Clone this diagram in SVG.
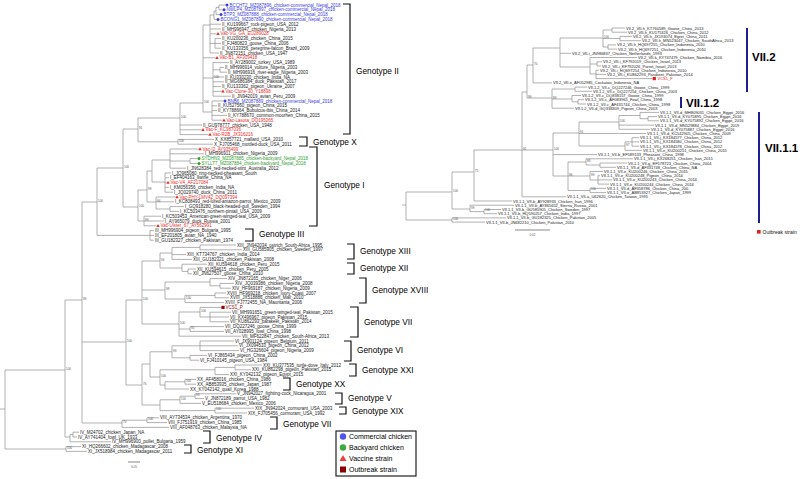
<svg xmlns="http://www.w3.org/2000/svg" width="800" height="479" viewBox="0 0 800 479">
<style>
.e{fill:none;stroke:#8f8f8f;stroke-width:.7}
text{font-family:"Liberation Sans",Arial,sans-serif;dominant-baseline:central}
.l{font-size:4.5px;fill:#1a1a1a}
.r{font-size:4px;fill:#1a1a1a}
.bs{font-size:3px;fill:#555}
.cb{fill:#3b3be0}.cg{fill:#2e9e2e}.cv{fill:#f02828}.co{fill:#9e0000}
.gl{font-size:8.3px;fill:#000}
.br{fill:none;stroke:#111;stroke-width:1.2}
.cl{font-size:11.5px;font-weight:bold;fill:#000}
.bar{stroke:#1e1e8c;stroke-width:2}
.sc{stroke:#555;stroke-width:.7}
</style>
<rect width="800" height="479" fill="#fff"/>
<g id="connectors">
<path class="e" d="M0 409H5 M5 370V449 M5 370H65 M5 449H66
M66 446.6V451.4 M66 446.6H81 M66 451.4H87
M65 300V437 M65 300H82 M65 437H70
M70 434.6V441.8 M70 434.6H73 M70 441.8H111 M73 432.2V437 M73 432.2H79 M73 437H77
M82 202V423 M82 202H97 M82 342H126 M82 423H122
M122 420.2V427.4 M122 420.2H147 M122 427.4H169 M147 417.8V422.6 M147 417.8H159 M147 422.6H167
M97 168V235.4 M97 168H123 M97 235.4H150
M150 230.6V240.2 M150 230.6H154 M150 235.4H154 M150 240.2H154
M123 129V207 M123 129H138 M123 207H138
M138 118V141.8 M138 118H180 M138 141.8H178
M178 139.4V144.2 M178 139.4H214 M178 144.2H213
M180 103V134.6 M180 103H203 M180 125H202 M180 129.8H201.5 M180 134.6H208.5
M203 25V112 M203 25H210 M203 57.8H215.5 M203 78H213 M203 112H212
M210 15V53 M210 15H214 M210 24.2H221 M210 29H221 M210 33.8H216.5 M210 43.4H215 M210 53H219
M215 38.6V48.2 M215 38.6H221 M215 43.4H221 M215 48.2H221
M214 11V19.4 M214 11H216 M214 19.4H216.5
M216 7.4V14.6 M216 7.4H219 M216 14.6H219.5
M219 5V9.8 M219 5H225.5 M219 9.8H222.5
M213 62.6V96.2 M213 62.6H229 M213 69.8H220 M213 77H224 M213 81.8H224 M213 86.6H221 M213 91.4H221.5 M213 96.2H231
M220 67.4V72.2 M220 67.4H224 M220 72.2H227
M212 101V120.2 M212 101H223.5 M212 105.8H217 M212 110.6H217 M212 115.4H227 M212 120.2H222.5
M138 190V221 M138 190H147 M138 221H144
M144 216.2V225.8 M144 216.2H161 M144 221H164 M144 225.8H156.5
M147 171V202 M147 171H152 M147 202H156
M152 160V182 M152 160H170 M152 182H165
M170 149V168.2 M170 149H198.5 M170 153.8H204 M170 161H190 M170 168.2H186
M190 158.6V163.4 M190 158.6H197.5 M190 163.4H197.5
M165 173V192.2 M165 173H171 M165 177.8H169 M165 182.6H166.5 M165 187.4H169 M165 192.2H173
M156 197V209 M156 197H175.5 M156 201.8H174 M156 209H170
M170 206.6V211.4 M170 206.6H184 M170 211.4H179
M126 300V385 M126 300H142 M126 385H142
M142 261V324 M142 261H160 M142 290H165 M142 324H179
M160 253V268 M160 253H172 M160 268H182
M172 247.4V259.4 M172 247.4H200 M172 254.6H186 M172 259.4H192 M200 245V249.8 M200 245H236 M200 249.8H242
M182 264.2V271.4 M182 264.2H207 M182 271.4H188 M188 269V273.8 M188 269H196 M188 273.8H192
M165 282V299 M165 282H210 M165 299H185
M210 278.6V285.8 M210 278.6H227 M210 285.8H220 M220 283.4V288.2 M220 283.4H234 M220 288.2H231
M185 295.4V302.6 M185 295.4H215 M185 302.6H224 M215 293V297.8 M215 293H226 M215 297.8H229
M179 312V336.2 M179 312H200 M179 329H190 M179 336.2H241
M200 307.4V317 M200 307.4H221.5 M200 317H210 M210 312.2V321.8 M210 312.2H231 M210 317H229 M210 321.8H229
M190 326.6V331.4 M190 326.6H224 M190 331.4H224
M142 364V405 M142 364H150 M142 405H160
M150 351.8V377 M150 351.8H172 M150 377H160
M172 345.8V357.8 M172 345.8H200 M172 357.8H190 M200 341V350.6 M200 341H234 M200 345.8H238 M200 350.6H239 M190 355.4V360.2 M190 355.4H207 M190 360.2H199
M160 369.8V385 M160 369.8H215 M160 385H165
M215 367.4V374.6 M215 367.4H235 M215 374.6H229 M235 365V369.8 M235 365H262 M235 369.8H251
M165 381.8V389 M165 381.8H185 M165 389H189 M185 379.4V384.2 M185 379.4H196 M185 384.2H196
M160 399.8V410.6 M160 399.8H180 M160 410.6H215
M180 396.2V403.4 M180 396.2H195 M180 403.4H201 M195 393.8V398.6 M195 393.8H236 M195 398.6H204
M215 408.2V413 M215 408.2H254 M215 413H247"/>
<path class="e" d="M402 205H406 M406 192V220 M406 192H452 M406 220H452
M452 217.9V222.1 M452 217.9H506 M452 222.1H485
M452 172V209 M452 172H474 M452 209H470
M470 205.2V211.6 M470 205.2H514 M470 211.6H484 M484 209.5V213.7 M484 209.5H501 M484 213.7H497
M474 150V201 M474 150H522 M474 201H512
M522 92V196.8 M522 92H527 M522 150H553 M522 196.8H566
M527 65V98 M527 65H533 M527 98H552
M533 48V82.9 M533 48H560 M533 82.9H552
M560 38V67 M560 38H603 M560 53.3H571 M560 67H590
M603 30V47 M603 30H612 M603 38.5H620 M603 47H608
M612 28V32.2 M612 28H625 M612 32.2H627
M620 36.4V40.7 M620 36.4H632 M620 40.7H641
M608 44.9V49.1 M608 44.9H616 M608 49.1H617
M590 57.5V74 M590 57.5H637 M590 64H597 M590 74H596
M597 61.8V66 M597 61.8H602 M597 66H601
M596 70.2V78.6 M596 70.2H599 M596 74.4H606 M596 78.6H652.5
M552 89V108.2 M552 89H575 M552 99H572 M552 108.2H574
M575 87.1V91.3 M575 87.1H587 M575 91.3H592
M572 95.5V101.8 M572 95.5H581 M572 101.8H578
M578 99.7V104 M578 99.7H584 M578 104H586
M553 133V176 M553 133H579 M553 154.6H597 M553 176H568
M579 122V146 M579 122H619 M579 133.5H646 M579 146H625
M619 115.5V129.3 M619 115.5H640 M619 125.1H654 M619 129.3H650
M640 112.4V118.7 M640 112.4H659 M640 118.7H648
M648 116.6V120.8 M648 116.6H657 M648 120.8H659
M625 141.9V150.4 M625 141.9H632 M625 150.4H642
M632 137.7V146.2 M632 137.7H639 M632 141.9H639 M632 146.2H639
M568 162V190.5 M568 162H586 M568 176H590 M568 190.5H590
M586 158.8V165 M586 158.8H633 M586 165H600
M600 163V167.3 M600 163H627 M600 167.3H616
M590 171.5V180 M590 171.5H603 M590 180H598
M598 175.7V184.1 M598 175.7H600 M598 179.9H612 M598 184.1H609
M590 188.4V192.6 M590 188.4H606 M590 192.6H606"/>
</g>
<g id="support">
<text class="bs" x="66" y="368.8">100</text><text class="bs" x="83" y="298.8">99</text><text class="bs" x="98" y="200.8">100</text><text class="bs" x="124" y="166.8">100</text><text class="bs" x="139" y="127.8">91</text><text class="bs" x="139" y="205.8">100</text><text class="bs" x="148" y="188.8">99</text><text class="bs" x="157" y="200.8">94</text><text class="bs" x="145" y="219.8">99</text><text class="bs" x="179" y="140.6">100</text><text class="bs" x="181" y="116.8">100</text><text class="bs" x="204" y="101.8">100</text><text class="bs" x="214" y="76.8">100</text><text class="bs" x="127" y="340.8">100</text><text class="bs" x="143" y="383.8">76</text><text class="bs" x="143" y="298.8">100</text><text class="bs" x="161" y="259.8">94</text><text class="bs" x="166" y="288.8">99</text><text class="bs" x="180" y="322.8">100</text><text class="bs" x="201" y="310.8">100</text><text class="bs" x="191" y="327.8">92</text><text class="bs" x="173" y="350.6">99</text><text class="bs" x="161" y="375.8">100</text><text class="bs" x="186" y="380.6">100</text><text class="bs" x="216" y="409.4">100</text><text class="bs" x="196" y="395">93</text><text class="bs" x="181" y="398.6">100</text><text class="bs" x="123" y="421.8">70</text><text class="bs" x="148" y="419">100</text><text class="bs" x="67" y="447.8">100</text><text class="bs" x="186" y="298.2">100</text>
<text class="bs" x="453" y="190.8">100</text><text class="bs" x="475" y="170.8">75</text><text class="bs" x="471" y="207.8">99</text><text class="bs" x="485" y="210.4">100</text><text class="bs" x="453" y="218.8">100</text><text class="bs" x="523" y="148.8">91</text><text class="bs" x="528" y="96.8">99</text><text class="bs" x="534" y="63.8">70</text><text class="bs" x="604" y="37.3">100</text><text class="bs" x="553" y="97.8">89</text><text class="bs" x="554" y="148.8">100</text><text class="bs" x="580" y="132.3">91</text><text class="bs" x="620" y="121">100</text><text class="bs" x="626" y="145">97</text><text class="bs" x="587" y="161">98</text><text class="bs" x="569" y="174.8">96</text><text class="bs" x="591" y="175">99</text><text class="bs" x="591" y="189.3">100</text>
</g>
<g id="left-leaves">
<g id="n1"><circle class="cb" cx="227" cy="5" r="1.5"/><text class="l cb" x="229.5" y="5">BCCHT2_MZ087896_chicken-commercial_Nepal_2018</text></g>
<g id="n2"><circle class="cb" cx="224" cy="9.8" r="1.5"/><text class="l cb" x="226.5" y="9.8">NWLP4_MZ087897_chicken-commercial_Nepal_2018</text></g>
<g id="n3"><circle class="cb" cx="221" cy="14.6" r="1.5"/><text class="l cb" x="223.5" y="14.6">BTP3_MZ087888_chicken-commercial_Nepal_2018</text></g>
<g id="n4"><circle class="cb" cx="218" cy="19.4" r="1.5"/><text class="l cb" x="220.5" y="19.4">BCONG1_MZ087890_chicken-commercial_Nepal_2018</text></g>
<g id="n5"><text class="l" x="222" y="24.2">II_KU199667_rock-pigeon_USA_2012</text></g>
<g id="n6"><text class="l" x="222" y="29">II_MH996947_chicken_Nigeria_2013</text></g>
<g id="n7"><polygon class="cv" points="218,32 219.7,35 216.3,35"/><text class="l cv" x="220.5" y="33.8">Vac-VG_GA_EU289028</text></g>
<g id="n8"><text class="l" x="222" y="38.6">II_KU200236_chicken_China_2015</text></g>
<g id="n9"><text class="l" x="222" y="43.4">II_FJ480823_goose_China_2006</text></g>
<g id="n10"><text class="l" x="222" y="48.2">II_KU133356_peregrine-falcon_Brazil_2009</text></g>
<g id="n11"><text class="l" x="220" y="53">II_JN872151_chicken_USA_1947</text></g>
<g id="n12"><polygon class="cv" points="217,56 218.7,59 215.3,59"/><text class="l cv" x="219.5" y="57.8">Vac-B1_AF309418</text></g>
<g id="n13"><text class="l" x="230" y="62.6">II_AY289002_turkey_USA_1989</text></g>
<g id="n14"><text class="l" x="225" y="67.4">II_MH996914_vulture_Nigeria_2003</text></g>
<g id="n15"><text class="l" x="228" y="72.2">II_MH996916_river-eagle_Nigeria_2003</text></g>
<g id="n16"><text class="l" x="225" y="77">II_KU330230_chicken_India_NA</text></g>
<g id="n17"><text class="l" x="225" y="81.8">II_MG686384_duck_Pakistan_2017</text></g>
<g id="n18"><text class="l" x="222" y="86.6">II_KU133362_pigeon_Ukraine_2007</text></g>
<g id="n19"><polygon class="cv" points="223,89.6 224.7,92.6 221.3,92.6"/><text class="l cv" x="225.5" y="91.4">Vac-Clone-30_Y18898</text></g>
<g id="n20"><text class="l" x="232" y="96.2">II_JN942019_avian_Peru_2009</text></g>
<g id="n21"><circle class="cb" cx="225" cy="101" r="1.5"/><text class="l cb" x="227.5" y="101">BNB6_MZ087889_chicken-commercial_Nepal_2018</text></g>
<g id="n22"><text class="l" x="218" y="105.8">II_KU527560_pigeon_China_2015</text></g>
<g id="n23"><text class="l" x="218" y="110.6">II_KY788664_Bubulcus-ibis_China_2014</text></g>
<g id="n24"><text class="l" x="228" y="115.4">II_KY788670_common-moorhen_China_2015</text></g>
<g id="n25"><polygon class="cv" points="224,118.4 225.7,121.4 222.3,121.4"/><text class="l cv" x="226.5" y="120.2">Vac-Lasota_DQ195265</text></g>
<g id="n26"><text class="l" x="203" y="125">II_GU978777_chicken_USA_1948</text></g>
<g id="n27"><polygon class="cv" points="203,128 204.7,131 201.3,131"/><text class="l cv" x="205.5" y="129.8">Vac-F_KC987036</text></g>
<g id="n28"><polygon class="cv" points="210,132.8 211.7,135.8 208.3,135.8"/><text class="l cv" x="212.5" y="134.6">Vac-R2B_JX316216</text></g>
<g id="n29"><text class="l" x="215" y="139.4">X_KX857721_mallard_USA_2010</text></g>
<g id="n30"><text class="l" x="214" y="144.2">X_FJ705468_mottled-duck_USA_2011</text></g>
<g id="n31"><polygon class="cv" points="200,147.2 201.7,150.2 198.3,150.2"/><text class="l cv" x="202.5" y="149">Vac-I2_AY935499</text></g>
<g id="n32"><text class="l" x="205" y="153.8">I_MH996911_chicken_Nigeria_2009</text></g>
<g id="n33"><circle class="cg" cx="199" cy="158.6" r="1.5"/><text class="l cg" x="201.5" y="158.6">SYDHN3_MZ087885_chicken-backyard_Nepal_2018</text></g>
<g id="n34"><circle class="cg" cx="199" cy="163.4" r="1.5"/><text class="l cg" x="201.5" y="163.4">SYLLT7_MZ087884_chicken-backyard_Nepal_2018</text></g>
<g id="n35"><text class="l" x="187" y="168.2">I_JN628384_red-necked-stint_Australia_2012</text></g>
<g id="n36"><text class="l" x="172" y="173">I_JQ965080_ring-necked-pheasant_South</text></g>
<g id="n37"><text class="l" x="170" y="177.8">I_EF404163_swine_China_NA</text></g>
<g id="n38"><polygon class="cv" points="168,180.8 169.7,183.8 166.3,183.8"/><text class="l cv" x="170.5" y="182.6">Vac-V4_AF217084</text></g>
<g id="n39"><text class="l" x="170" y="187.4">I_KM056356_chicken_India_NA</text></g>
<g id="n40"><text class="l" x="174" y="192.2">I_JQ029740_duck_China_2011</text></g>
<g id="n41"><polygon class="cv" points="177,195.2 178.7,198.2 175.3,198.2"/><text class="l cv" x="179.5" y="197">Vac-PHY-LMV42_DQ097394</text></g>
<g id="n42"><text class="l" x="175" y="201.8">I_KC808493_red-lored-amazon-parrot_Mexico_2009</text></g>
<g id="n43"><text class="l" x="185" y="206.6">I_GQ918280_black-headed-gull_Sweden_1994</text></g>
<g id="n44"><text class="l" x="180" y="211.4">I_KC503476_northern-pintail_USA_2009</text></g>
<g id="n45"><text class="l" x="162" y="216.2">I_KC503453_American-green-winged-teal_USA_2009</text></g>
<g id="n46"><text class="l" x="165" y="221">I_AY965079_duck_Russia_2001</text></g>
<g id="n47"><polygon class="cv" points="158,224 159.7,227 156.3,227"/><text class="l cv" x="160.5" y="225.8">Vac-Ulster_67_AY562991</text></g>
<g id="n48"><text class="l" x="155" y="230.6">III_MH996904_pigeon_Bulgaria_1995</text></g>
<g id="n49"><text class="l" x="155" y="235.4">III_EF201805_avian_NA_1940</text></g>
<g id="n50"><text class="l" x="155" y="240.2">III_GU182327_chicken_Pakistan_1974</text></g>
<g id="n51"><text class="l" x="237" y="245">XIII_JN942034_ostrich_South-Africa_1995</text></g>
<g id="n52"><text class="l" x="243" y="249.8">XIII_GU585905_chicken_Sweden_1997</text></g>
<g id="n53"><text class="l" x="187" y="254.6">XIII_KT734767_chicken_India_2014</text></g>
<g id="n54"><text class="l" x="193" y="259.4">XIII_GU182321_chicken_Pakistan_2008</text></g>
<g id="n55"><text class="l" x="208" y="264.2">XII_KU594618_chicken_Peru_2015</text></g>
<g id="n56"><text class="l" x="197" y="269">XII_KU594615_chicken_Peru_2005</text></g>
<g id="n57"><text class="l" x="193" y="273.8">XII_JN627507_goose_China_2010</text></g>
<g id="n58"><text class="l" x="228" y="278.6">XIV_JN872165_chicken_Niger_2006</text></g>
<g id="n59"><text class="l" x="235" y="283.4">XIV_JQ039386_chicken_Nigeria_2008</text></g>
<g id="n60"><text class="l" x="232" y="288.2">XIV_HF969187_chicken_Nigeria_2009</text></g>
<g id="n61"><text class="l" x="227" y="293">XVIII_HF969218_chicken_Ivory-Coast_2007</text></g>
<g id="n62"><text class="l" x="230" y="297.8">XVIII_JX518886_chicken_Mali_2010</text></g>
<g id="n63"><text class="l" x="225" y="302.6">XVIII_FJ772455_NA_Mauritania_2006</text></g>
<g id="n64"><rect class="co" x="221.4" y="305.8" width="3.2" height="3.2"/><text class="l co" x="225.5" y="307.4">VCS1_P</text></g>
<g id="n65"><text class="l" x="232" y="312.2">VII_MH991651_green-winged-teal_Pakistan_2015</text></g>
<g id="n66"><text class="l" x="230" y="317">VII_KX496967_pigeon_Pakistan_2015</text></g>
<g id="n67"><text class="l" x="230" y="321.8">VII_KU862293_parakeet_Pakistan_2014</text></g>
<g id="n68"><text class="l" x="225" y="326.6">VII_DQ227246_goose_China_1999</text></g>
<g id="n69"><text class="l" x="225" y="331.4">VII_AY028995_fowl_China_1998</text></g>
<g id="n70"><text class="l" x="242" y="336.2">VII_MF622847_chicken_South-Africa_2013</text></g>
<g id="n71"><text class="l" x="235" y="341">VI_JX901124_pigeon_Belgium_2011</text></g>
<g id="n72"><text class="l" x="239" y="345.8">VI_JX094510_pigeon_China_2012</text></g>
<g id="n73"><text class="l" x="240" y="350.6">VI_HG326604_pigeon_Nigeria_2009</text></g>
<g id="n74"><text class="l" x="208" y="355.4">VI_FJ865434_pigeon_China_2002</text></g>
<g id="n75"><text class="l" x="200" y="360.2">VI_FJ410145_pigeon_USA_1984</text></g>
<g id="n76"><text class="l" x="263" y="365">XXI_KU377535_turtle-dove_Italy_2012</text></g>
<g id="n77"><text class="l" x="252" y="369.8">XXI_KU862298_pigeon_Pakistan_2015</text></g>
<g id="n78"><text class="l" x="230" y="374.6">XXI_KY042132_pigeon_Egypt_2015</text></g>
<g id="n79"><text class="l" x="197" y="379.4">XX_AF458016_chicken_China_1986</text></g>
<g id="n80"><text class="l" x="197" y="384.2">XX_AB853935_chicken_Japan_1987</text></g>
<g id="n81"><text class="l" x="190" y="389">XX_KY042142_quail_Korea_1988</text></g>
<g id="n82"><text class="l" x="237" y="393.8">V_JN942027_fighting-cock_Nicaragua_2001</text></g>
<g id="n83"><text class="l" x="205" y="398.6">V_JN872189_parrot_USA_1982</text></g>
<g id="n84"><text class="l" x="202" y="403.4">V_EU518684_chicken_Mexico_2006</text></g>
<g id="n85"><text class="l" x="255" y="408.2">XIX_JN942024_cormorant_USA_2003</text></g>
<g id="n86"><text class="l" x="248" y="413">XIX_FJ705456_cormorant_USA_1992</text></g>
<g id="n87"><text class="l" x="160" y="417.8">VIII_AY734534_chicken_Argentina_1970</text></g>
<g id="n88"><text class="l" x="168" y="422.6">VIII_FJ751919_chicken_China_1985</text></g>
<g id="n89"><text class="l" x="170" y="427.4">VIII_AF048763_chicken_Malaysia_NA</text></g>
<g id="n90"><text class="l" x="80" y="432.2">IV_M24702_chicken_Japan_NA</text></g>
<g id="n91"><text class="l" x="78" y="437">IV_AY741404_fowl_UK_1933</text></g>
<g id="n92"><text class="l" x="112" y="441.8">IV_MH996900_pullet_Bulgaria_1959</text></g>
<g id="n93"><text class="l" x="82" y="446.6">XI_HQ266602_chicken_Madagascar_2008</text></g>
<g id="n94"><text class="l" x="88" y="451.4">XI_JX518984_chicken_Madagascar_2011</text></g>
</g>
<g id="right-leaves">
<g id="m1"><text class="r" x="626" y="28">VII.2_VII-h_KT760589_Goose_China_2013</text></g>
<g id="m2"><text class="r" x="628" y="32.2">VII.2_VII-h_KU175326_Chicken_China_2012</text></g>
<g id="m3"><text class="r" x="633" y="36.4">VII.2_VII-h_JX193074_Egret_China_2011</text></g>
<g id="m4"><text class="r" x="642" y="40.7">VII.2_VII-h_MN523047_Chicken_SouthAfrica_2013</text></g>
<g id="m5"><text class="r" x="617" y="44.9">VII.2_VII-h_HQ697255_Chicken_Indonesia_2010</text></g>
<g id="m6"><text class="r" x="618" y="49.1">VII.2_VII-h_HQ697251_Chicken_Indonesia_2010</text></g>
<g id="m7"><text class="r" x="572" y="53.3">VII.2_VII-i_JN986837_Chicken_Netherlands_1993</text></g>
<g id="m8"><text class="r" x="638" y="57.5">VII.2_VII-k_KY747479_Chicken_Namibia_2016</text></g>
<g id="m9"><text class="r" x="603" y="61.8">VII.2_VII-i_KF792019_Chicken_Israel_2013</text></g>
<g id="m10"><text class="r" x="602" y="66">VII.2_VII-i_KF792026_Parrot_Israel_2013</text></g>
<g id="m11"><text class="r" x="600" y="70.2">VII.2_VII-i_HQ697254_Chicken_Indonesia_2010</text></g>
<g id="m12"><text class="r" x="607" y="74.4">VII.2_VII-i_KU862293_Parakeet_Pakistan_2014</text></g>
<g id="m13"><rect fill="#e81c1c" x="652.7" y="77" width="3.2" height="3.2"/><text class="r" fill="#e81c1c" style="fill:#e81c1c" x="657.5" y="78.6">VCS1_F</text></g>
<g id="m14"><text class="r" x="553" y="82.9">VII.2_VII-e_AF052985_Cockatoo_Indonesia_NA</text></g>
<g id="m15"><text class="r" x="588" y="87.1">VII.1.2_VII-c_DQ227246_Goose_China_1999</text></g>
<g id="m16"><text class="r" x="593" y="91.3">VII.1.2_VII-c_DQ227254_Chicken_China_2003</text></g>
<g id="m17"><text class="r" x="582" y="95.5">VII.1.2_VII-c_DQ838157_Goose_China_1999</text></g>
<g id="m18"><text class="r" x="585" y="99.7">VII.1.2_VII-c_AF083965_Fowl_China_1998</text></g>
<g id="m19"><text class="r" x="587" y="104">VII.1.2_VII-c_AF431744_Chicken_China_1998</text></g>
<g id="m20"><text class="r" x="575" y="108.2">VII.1.2_VII-d_GQ338309_Pigeon_China_2003</text></g>
<g id="m21"><text class="r" x="660" y="112.4">VII.1.1_VII-d_MH809031_Chicken_Egypt_2016</text></g>
<g id="m22"><text class="r" x="658" y="116.6">VII.1.1_VII-d_KY075895_Chicken_Egypt_2016</text></g>
<g id="m23"><text class="r" x="660" y="120.8">VII.1.1_VII-d_KY075892_Chicken_Egypt_2016</text></g>
<g id="m24"><text class="r" x="655" y="125.1">VII.1.1_VII-d_MN529884_Chicken_Egypt_2019</text></g>
<g id="m25"><text class="r" x="651" y="129.3">VII.1.1_VII-d_KY075887_Chicken_Egypt_2016</text></g>
<g id="m26"><text class="r" x="647" y="133.5">VII.1.1_VII-d_KC542905_Chicken_China_2009</text></g>
<g id="m27"><text class="r" x="640" y="137.7">VII.1.1_VII-j_KX184577_Chicken_China_2012</text></g>
<g id="m28"><text class="r" x="640" y="141.9">VII.1.1_VII-j_KX184580_Chicken_China_2012</text></g>
<g id="m29"><text class="r" x="640" y="146.2">VII.1.1_VII-j_KX184578_Chicken_China_2012</text></g>
<g id="m30"><text class="r" x="643" y="150.4">VII.1.1_VII-e_KU200251_Chicken_China_2015</text></g>
<g id="m31"><text class="r" x="598" y="154.6">VII.1.1_VII-b_EF589133_Pheasant_China_1998</text></g>
<g id="m32"><text class="r" x="634" y="158.8">VII.1.1_VII-j_KX268251_Chicken_Iran_2015</text></g>
<g id="m33"><text class="r" x="628" y="163">VII.1.1_VII-g_EF578723_Chicken_China_2004</text></g>
<g id="m34"><text class="r" x="617" y="167.3">VII.1.1_VII-d_AF331748_Chicken_China_NA</text></g>
<g id="m35"><text class="r" x="604" y="171.5">VII.1.1_VII-e_KU200246_Chicken_China_2015</text></g>
<g id="m36"><text class="r" x="601" y="175.7">VII.1.1_VII-e_KU200248_Pigeon_China_2014</text></g>
<g id="m37"><text class="r" x="613" y="179.9">VII.1.1_VII-e_KU200243_Chicken_China_2014</text></g>
<g id="m38"><text class="r" x="610" y="184.1">VII.1.1_VII-e_KU200244_Chicken_China_2014</text></g>
<g id="m39"><text class="r" x="607" y="188.4">VII.1.1_VII-d_AF358786_Chicken_China_200</text></g>
<g id="m40"><text class="r" x="607" y="192.6">VII.1.1_VII-e_AB853927_Chicken_Japan_1999</text></g>
<g id="m41"><text class="r" x="567" y="196.8">VII.1.1_VII-a_U62620_Chicken_Taiwan_1995</text></g>
<g id="m42"><text class="r" x="513" y="201">VII.1.1_VII-b_AY928933_Chicken_Iran_1996</text></g>
<g id="m43"><text class="r" x="515" y="205.2">VII.1.1_VII-b_AY865652_Sterna_Russia_2001</text></g>
<g id="m44"><text class="r" x="502" y="209.5">VII.1.1_VII-b_GU585905_Chicken_Sweden_1997</text></g>
<g id="m45"><text class="r" x="498" y="213.7">VII.1.1_VII-b_HQ590257_Chicken_India_1997</text></g>
<g id="m46"><text class="r" x="507" y="217.9">VII.1.1_VII-b_GU182325_Chicken_Pakistan_2005</text></g>
<g id="m47"><text class="r" x="486" y="222.1">VII.1.1_VII-b_JN682210_Chicken_Pakistan_2010</text></g>
</g>
<g id="genotypes">
<g id="gII"><path class="br" d="M343 4H350V134H343"/><text class="gl" x="356" y="71">Genotype II</text></g>
<g id="gX"><path class="br" d="M299 137H307V146H299"/><text class="gl" x="313" y="141.5">Genotype X</text></g>
<g id="gI"><path class="br" d="M309 147H317V226H309"/><text class="gl" x="324" y="185">Genotype I</text></g>
<g id="gIII"><path class="br" d="M245 229H253V241H245"/><text class="gl" x="259" y="234">Genotype III</text></g>
<g id="gXIII"><path class="br" d="M347 244H354V259H347"/><text class="gl" x="360" y="251">Genotype XIII</text></g>
<g id="gXII"><path class="br" d="M347 263H354V274H347"/><text class="gl" x="360" y="268">Genotype XII</text></g>
<g id="gXVIII"><path class="br" d="M359 278H366V303H359"/><text class="gl" x="372" y="290">Genotype XVIII</text></g>
<g id="gVII"><path class="br" d="M350 307H358V337H350"/><text class="gl" x="364" y="322">Genotype VII</text></g>
<g id="gVI"><path class="br" d="M344 341H351V361H344"/><text class="gl" x="357" y="350">Genotype VI</text></g>
<g id="gXXI"><path class="br" d="M349 364H356V376H349"/><text class="gl" x="362" y="370">Genotype XXI</text></g>
<g id="gXX"><path class="br" d="M283 378H290V390H283"/><text class="gl" x="296" y="384">Genotype XX</text></g>
<g id="gV"><path class="br" d="M335 393H342V404H335"/><text class="gl" x="348" y="398">Genotype V</text></g>
<g id="gXIX"><path class="br" d="M339 407H346V414H339"/><text class="gl" x="352" y="411">Genotype XIX</text></g>
<g id="gVIIb"><path class="br" d="M270 417H277V429H270"/><text class="gl" x="283" y="424">Genotype VII</text></g>
<g id="gIV"><path class="br" d="M203 431H210V443H203"/><text class="gl" x="216" y="438">Genotype IV</text></g>
<g id="gXI"><path class="br" d="M184 445H191V453H184"/><text class="gl" x="197" y="450">Genotype XI</text></g>
</g>
<g id="subgenotypes">
<g id="sVII2"><line class="bar" x1="747" y1="28" x2="747" y2="92"/><text class="cl" x="752" y="57">VII.2</text></g>
<g id="sVII12"><line class="bar" x1="681" y1="97" x2="681" y2="108"/><text class="cl" x="686" y="102.5">VII.1.2</text></g>
<g id="sVII11"><line class="bar" x1="759" y1="112" x2="759" y2="223"/><text class="cl" x="765" y="148">VII.1.1</text></g>
<g id="outbreak-key"><rect x="757" y="230" width="3.6" height="3.6" fill="#e81c1c"/><text x="762.5" y="232" style="font-size:5px" fill="#111">Outbreak strain</text></g>
</g>
<g id="scales">
<line class="sc" x1="128" y1="462" x2="140" y2="462"/><text class="bs" x="134" y="467" text-anchor="middle">0.05</text>
<line class="sc" x1="515" y1="230" x2="550" y2="230"/><text class="bs" x="532.5" y="234.5" text-anchor="middle">0.02</text>
</g>
<g id="legend">
<rect x="336" y="431" width="80" height="45" fill="#fff" stroke="#222" stroke-width="1.2"/>
<circle cx="343" cy="436.5" r="3.2" fill="#5252f0"/><text x="349" y="436.5" style="font-size:7px" fill="#000">Commercial chicken</text>
<circle cx="343" cy="447.5" r="3.2" fill="#3daa3d"/><text x="349" y="447.5" style="font-size:7px" fill="#000">Backyard chicken</text>
<polygon points="343,455 346.5,461 339.5,461" fill="#f03c3c"/><text x="349" y="458.5" style="font-size:7px" fill="#000">Vaccine strain</text>
<rect x="340" y="466.5" width="6" height="6" fill="#8b0000"/><text x="349" y="469.5" style="font-size:7px" fill="#000">Outbreak strain</text>
</g>
</svg>
